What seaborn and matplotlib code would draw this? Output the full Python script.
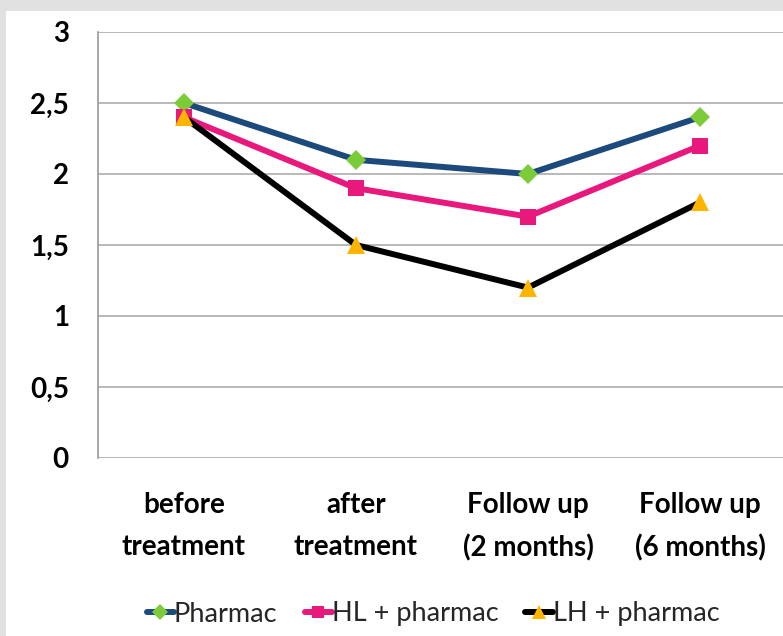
import matplotlib
matplotlib.use("Agg")
import matplotlib.pyplot as plt
import matplotlib.patches as mpatches
from matplotlib.ticker import FuncFormatter, MultipleLocator
import seaborn as sns
import pandas as pd

categories = ["before\ntreatment", "after\ntreatment", "Follow up\n(2 months)", "Follow up\n(6 months)"]
pharmac = [2.5, 2.1, 2.0, 2.4]
hl_pharmac = [2.4, 1.9, 1.7, 2.2]
lh_pharmac = [2.4, 1.5, 1.2, 1.8]
series_names = ["Pharmac", "HL + pharmac", "LH + pharmac"]

sns.set_theme(style="white")
plt.rcParams["font.family"] = ["Lato", "DejaVu Sans"]

fig = plt.figure(figsize=(7.83, 6.36), dpi=100)
fig.patch.set_facecolor("#e1e1e1")
panel = mpatches.Rectangle((6 / 783, 0), 1, 1 - 11 / 636, transform=fig.transFigure,
                           facecolor="white", edgecolor="none", zorder=-10)
fig.patches.append(panel)

ax = fig.add_axes([98 / 783, 178 / 636, 688 / 783, 426 / 636])
ax.set_facecolor("none")

styles = [
    dict(line="#1c4a7c", marker="D", mface="#7ccc3a", ms=10),
    dict(line="#e8187c", marker="s", mface="#e8187c", ms=11.5),
    dict(line="#000000", marker="^", mface="#ffb400", ms=13),
]
frames = []
for name, vals in zip(series_names, [pharmac, hl_pharmac, lh_pharmac]):
    frames.append(pd.DataFrame({"x": list(range(len(categories))), "value": vals, "series": name}))
df = pd.concat(frames)

for name, st in zip(series_names, styles):
    sub = df[df["series"] == name]
    sns.lineplot(data=sub, x="x", y="value", ax=ax, color=st["line"], linewidth=4.3,
                 marker=st["marker"], markersize=st["ms"], markerfacecolor=st["mface"],
                 markeredgecolor=st["mface"], markeredgewidth=0, label=name, legend=False)

ax.set_xlim(-0.5, 3.5)
ax.set_ylim(0, 3)
ax.yaxis.set_major_locator(MultipleLocator(0.5))
ax.yaxis.set_major_formatter(FuncFormatter(lambda v, p: f"{v:g}".replace(".", ",")))
ax.set_xticks(range(len(categories)))
ax.set_xticklabels(categories, linespacing=1.75)
ax.grid(axis="y", color="#b3b3b3", linewidth=1.3)
ax.set_axisbelow(True)
for s in ["top", "right", "bottom"]:
    ax.spines[s].set_visible(False)
ax.spines["left"].set_color("#9a9a9a")
ax.spines["left"].set_linewidth(1.2)
ax.tick_params(axis="both", length=0, labelsize=20, colors="black")
ax.tick_params(axis="y", pad=21)
ax.tick_params(axis="x", pad=24.5)
for lbl in ax.get_xticklabels() + ax.get_yticklabels():
    lbl.set_fontweight("bold")
ax.set_xlabel("")
ax.set_ylabel("")

h, l = ax.get_legend_handles_labels()
fig.legend(h, l, loc="center", bbox_to_anchor=(0.553, 22 / 636), ncol=3, frameon=False,
           fontsize=19.5, handlelength=1.0, handletextpad=0.0, columnspacing=1.0,
           markerscale=0.8)

fig.savefig("out.png", dpi=100, facecolor=fig.get_facecolor())
